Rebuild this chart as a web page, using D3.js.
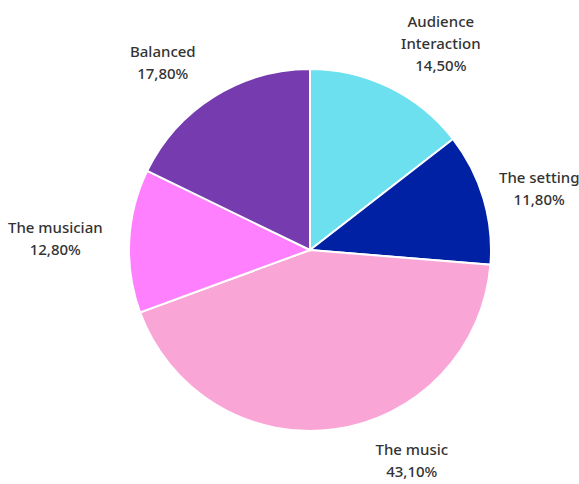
<!DOCTYPE html>
<html>
<head>
<meta charset="utf-8">
<script src="https://cdn.jsdelivr.net/npm/d3@7"></script>
<style>
  body { margin: 0; background: #fff; }
  .lbl { font-family: "Noto Sans", sans-serif; font-size: 15px; font-weight: 500; fill: #333; }
</style>
</head>
<body>
<script>
// chart values
var categories = ["Audience Interaction", "The setting", "The music", "The musician", "Balanced"];
var values = [14.5, 11.8, 43.1, 12.8, 17.8];
var labelLines = [["Audience", "Interaction"], ["The setting"], ["The music"], ["The musician"], ["Balanced"]];
var colors = ["#6de0ef", "#0021a3", "#f9a6d7", "#ff80ff", "#753baf"];

// Width and height
var w = 579;
var h = 484;
var cx = 310, cy = 250, r = 181;

// nudges for the outside labels (x, y) relative to centroid
var nudge = [[27, 6], [3, 6], [70, -23], [-19, 1], [-22, 13]];

var svg = d3.select("body")
    .append("svg")
    .attr("width", w)
    .attr("height", h);

var pie = d3.pie().sort(null).value(function (d) { return d; });
var arcs = pie(values);

var arc = d3.arc().innerRadius(0).outerRadius(r);
var labelArc = d3.arc().innerRadius(r + 55).outerRadius(r + 55);

var g = svg.append("g").attr("transform", "translate(" + cx + "," + cy + ")");

g.selectAll("path")
    .data(arcs)
    .enter()
    .append("path")
    .attr("d", arc)
    .attr("fill", function (d, i) { return colors[i]; })
    .attr("stroke", "#fff")
    .attr("stroke-width", 2);

var fmt = function (v) { return v.toFixed(2).replace(".", ",") + "%"; };

var labels = g.selectAll("text")
    .data(arcs)
    .enter()
    .append("text")
    .attr("class", "lbl")
    .attr("text-anchor", "middle")
    .attr("transform", function (d, i) {
        var c = labelArc.centroid(d);
        return "translate(" + (c[0] + nudge[i][0]) + "," + (c[1] + nudge[i][1]) + ")";
    });

labels.each(function (d, i) {
    var t = d3.select(this);
    var lines = labelLines[i].concat([fmt(values[i])]);
    var start = -(lines.length - 1) * 22 / 2;
    lines.forEach(function (s, k) {
        t.append("tspan")
            .attr("x", 0)
            .attr("y", start + k * 22)
            .attr("dy", "0.35em")
            .text(s);
    });
});
</script>
</body>
</html>
